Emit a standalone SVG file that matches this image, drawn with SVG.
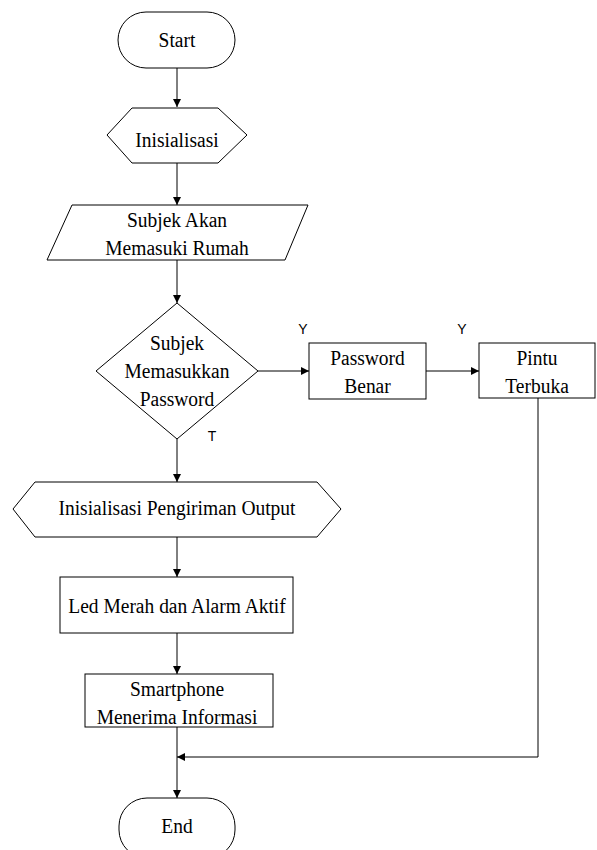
<svg xmlns="http://www.w3.org/2000/svg" width="597" height="850" viewBox="0 0 597 850">
<style>
.s{fill:#fff;stroke:#000;stroke-width:1}
.t{font-family:"Liberation Serif","Times New Roman",serif;font-size:19.5px;fill:#000;text-anchor:middle}
.l{font-family:"Liberation Sans",Arial,sans-serif;font-size:14px;fill:#000;text-anchor:middle}
.c{fill:none;stroke:#000;stroke-width:1}
</style>
<defs>
<marker id="a" viewBox="0 0 10 10" refX="10" refY="5" markerWidth="8" markerHeight="8" markerUnits="userSpaceOnUse" orient="auto">
<path d="M0,0 L10,5 L0,10 z" fill="#000"/>
</marker>
</defs>
<rect width="597" height="850" fill="#fff"/>
<g id="connectors">
<line class="c" x1="177" y1="68" x2="177" y2="107" marker-end="url(#a)"/>
<line class="c" x1="177" y1="163" x2="177" y2="205" marker-end="url(#a)"/>
<line class="c" x1="177" y1="260" x2="177" y2="303" marker-end="url(#a)"/>
<line class="c" x1="177" y1="439" x2="177" y2="482" marker-end="url(#a)"/>
<line class="c" x1="177" y1="537" x2="177" y2="577" marker-end="url(#a)"/>
<line class="c" x1="177" y1="633" x2="177" y2="674" marker-end="url(#a)"/>
<line class="c" x1="177" y1="727" x2="177" y2="798" marker-end="url(#a)"/>
<line class="c" x1="258" y1="371" x2="309" y2="371" marker-end="url(#a)"/>
<line class="c" x1="426" y1="371" x2="479" y2="371" marker-end="url(#a)"/>
<polyline class="c" points="538,398 538,757 177,757" marker-end="url(#a)"/>
<text class="l" x="303" y="334">Y</text>
<text class="l" x="462" y="334">Y</text>
<text class="l" x="212" y="441">T</text>
</g>
<g id="start">
<rect class="s" x="118" y="12" width="117" height="56" rx="28" ry="28"/>
<text class="t" transform="translate(177,47) scale(1,1.12)">Start</text>
</g>
<g id="init">
<polygon class="s" points="107,135 132,108 218,108 247,135 218,163 132,163"/>
<text class="t" transform="translate(177,147) scale(1,1.12)">Inisialisasi</text>
</g>
<g id="input">
<polygon class="s" points="72,205 308,205 285,260 47,260"/>
<text class="t" transform="translate(177,227) scale(1,1.12)">Subjek Akan</text>
<text class="t" transform="translate(177,255) scale(1,1.12)">Memasuki Rumah</text>
</g>
<g id="decision">
<polygon class="s" points="177,303 258,371 177,439 96,371"/>
<text class="t" transform="translate(177,350) scale(1,1.12)">Subjek</text>
<text class="t" transform="translate(177,378) scale(1,1.12)">Memasukkan</text>
<text class="t" transform="translate(177,406) scale(1,1.12)">Password</text>
</g>
<g id="benar">
<rect class="s" x="309" y="343" width="117" height="56"/>
<text class="t" transform="translate(367.5,365) scale(1,1.12)">Password</text>
<text class="t" transform="translate(367.5,393) scale(1,1.12)">Benar</text>
</g>
<g id="pintu">
<rect class="s" x="479" y="343" width="116" height="55"/>
<text class="t" transform="translate(537,365) scale(1,1.12)">Pintu</text>
<text class="t" transform="translate(537,393) scale(1,1.12)">Terbuka</text>
</g>
<g id="init-output">
<polygon class="s" points="13,509 35,482 317,482 341,509 317,537 35,537"/>
<text class="t" transform="translate(177,515) scale(1,1.12)">Inisialisasi Pengiriman Output</text>
</g>
<g id="led">
<rect class="s" x="60" y="577" width="233" height="56"/>
<text class="t" transform="translate(177,613) scale(1,1.12)">Led Merah dan Alarm Aktif</text>
</g>
<g id="smartphone">
<rect class="s" x="85" y="674" width="188" height="53"/>
<text class="t" transform="translate(177,696) scale(1,1.12)">Smartphone</text>
<text class="t" transform="translate(177,724) scale(1,1.12)">Menerima Informasi</text>
</g>
<g id="end">
<rect class="s" x="119" y="798" width="116" height="60" rx="28" ry="28"/>
<text class="t" transform="translate(177,833) scale(1,1.12)">End</text>
</g>
</svg>
